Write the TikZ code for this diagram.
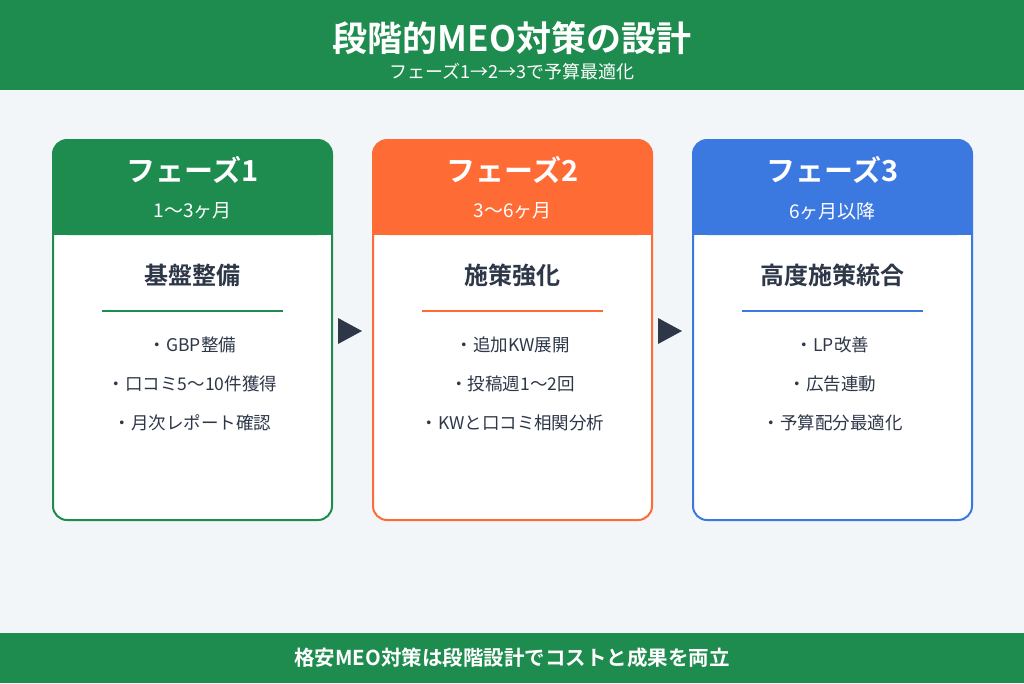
\documentclass[tikz,border=0pt]{standalone}
\usepackage{fontspec}
\setmainfont{Noto Sans CJK JP}
\newfontfamily\jpbold{Noto Sans CJK JP Bold}
\definecolor{mgreen}{HTML}{1E8C4E}
\definecolor{morange}{HTML}{FF6B35}
\definecolor{mblue}{HTML}{3B78E0}
\definecolor{mdark}{HTML}{2D3748}
\definecolor{mbg}{HTML}{F3F6F9}
\tikzset{
  title/.style={text=white, font=\jpbold\fontsize{35}{38}\selectfont},
  subtitle/.style={text=white, font=\fontsize{18}{20}\selectfont},
  phase/.style={text=white, font=\jpbold\fontsize{29}{32}\selectfont},
  period/.style={text=white, font=\fontsize{19}{21}\selectfont},
  head/.style={text=mdark, font=\jpbold\fontsize{24}{27}\selectfont},
  item/.style={text=mdark, font=\fontsize{17.5}{20}\selectfont},
  card/.style={line width=2pt, rounded corners=14pt}
}
\begin{document}
\begin{tikzpicture}[x=1pt, y=-1pt]
\useasboundingbox (0,0) rectangle (1024,683);
% Bands
    \fill[mbg] (0,0) rectangle (1024,683);
    \fill[mgreen] (0,0) rectangle (1024,90);
    \fill[mgreen] (0,633) rectangle (1024,683);
    \node[title] (ttl) at (512,38) {段階的MEO対策の設計};
    \node[subtitle] (sub) at (512,72) {フェーズ1→2→3で予算最適化};
    \node[text=white, font=\jpbold\fontsize{20.5}{23}\selectfont] (foot) at (512,658) {格安MEO対策は段階設計でコストと成果を両立};
% Phase 1
    \fill[white, rounded corners=14pt] (53,140) rectangle (332,520);
    \fill[mgreen, rounded corners=14pt] (53,140) rectangle (332,235);
    \fill[mgreen] (53,200) rectangle (332,235);
    \draw[card, mgreen] (53,140) rectangle (332,520);
    \node[phase] (p1) at (192.5,170) {フェーズ1};
    \node[period] (t1) at (192.5,211) {1〜3ヶ月};
    \node[head] (h1) at (192.5,275) {基盤整備};
    \draw[mgreen, line width=1.5pt] (102,311) -- (283,311);
    \node[item] (a1) at (192.5,345) {・GBP整備};
    \node[item] (b1) at (192.5,384) {・口コミ5〜10件獲得};
    \node[item] (c1) at (192.5,423) {・月次レポート確認};
% Phase 2
    \fill[white, rounded corners=14pt] (373,140) rectangle (652,520);
    \fill[morange, rounded corners=14pt] (373,140) rectangle (652,235);
    \fill[morange] (373,200) rectangle (652,235);
    \draw[card, morange] (373,140) rectangle (652,520);
    \node[phase] (p2) at (512.5,170) {フェーズ2};
    \node[period] (t2) at (512.5,211) {3〜6ヶ月};
    \node[head] (h2) at (512.5,275) {施策強化};
    \draw[morange, line width=1.5pt] (422,311) -- (603,311);
    \node[item] (a2) at (512.5,345) {・追加KW展開};
    \node[item] (b2) at (512.5,384) {・投稿週1〜2回};
    \node[item] (c2) at (512.5,423) {・KWと口コミ相関分析};
% Phase 3
    \fill[white, rounded corners=14pt] (693,140) rectangle (972,520);
    \fill[mblue, rounded corners=14pt] (693,140) rectangle (972,235);
    \fill[mblue] (693,200) rectangle (972,235);
    \draw[card, mblue] (693,140) rectangle (972,520);
    \node[phase] (p3) at (832.5,170) {フェーズ3};
    \node[period] (t3) at (832.5,211) {6ヶ月以降};
    \node[head] (h3) at (832.5,275) {高度施策統合};
    \draw[mblue, line width=1.5pt] (742,311) -- (923,311);
    \node[item] (a3) at (832.5,345) {・LP改善};
    \node[item] (b3) at (832.5,384) {・広告連動};
    \node[item] (c3) at (832.5,423) {・予算配分最適化};
% Arrows
    \fill[mdark] (338,318) -- (362,331) -- (338,344) -- cycle;
    \fill[mdark] (658,318) -- (682,331) -- (658,344) -- cycle;
\end{tikzpicture}
\end{document}
